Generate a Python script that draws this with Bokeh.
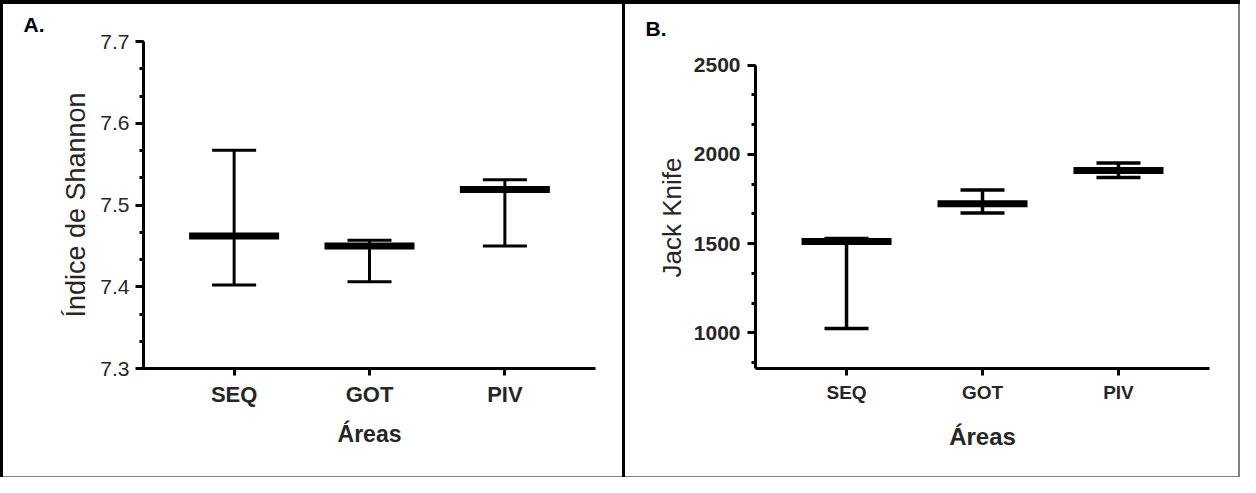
from bokeh.plotting import figure
from bokeh.layouts import row
from bokeh.models import (ColumnDataSource, FactorRange, Range1d, SingleIntervalTicker,
                          Whisker, TeeHead, Title)
from bokeh.embed import file_html
from bokeh.resources import INLINE

# ---- data ----
areas = ["SEQ", "GOT", "PIV"]

shannon_mean = [7.462, 7.450, 7.519]
shannon_low = [7.402, 7.406, 7.450]
shannon_high = [7.567, 7.457, 7.531]

jk_mean = [1512, 1723, 1910]
jk_low = [1024, 1671, 1870]
jk_high = [1528, 1801, 1952]

TXT = "#262626"


def panel(letter, ylabel, mean, low, high, yr, bounds, interval, W, H, mb,
          tick_font, tick_style, cat_font_size, cat_style, xlab_size, xlab_style,
          ylab_size, lw_wh, title_offset, title_standoff,
          ytick_standoff, ylab_standoff, xtick_standoff, xlab_standoff, shadow,
          ylabel_as_title=None):
    src = ColumnDataSource(dict(area=areas, mean=mean, low=low, high=high))
    p = figure(width=W, height=H, output_backend="svg", toolbar_location=None,
               x_range=FactorRange(factors=areas, range_padding=0.113),
               y_range=Range1d(*yr),
               min_border_left=mb[0], min_border_right=mb[1],
               min_border_top=mb[2], min_border_bottom=mb[3],
               title=letter,
               styles={"background-color": "white", "box-shadow": shadow})
    p.background_fill_color = None
    p.border_fill_color = None
    p.outline_line_color = None
    p.xgrid.visible = False
    p.ygrid.visible = False

    p.title.text_font = "Liberation Sans"
    p.title.text_font_size = "21px"
    p.title.text_font_style = "bold"
    p.title.text_color = "black"
    p.title.align = "left"
    p.title.offset = title_offset
    p.title.standoff = title_standoff

    ya = p.yaxis[0]
    ya.ticker = SingleIntervalTicker(interval=interval, num_minor_ticks=3)
    ya.bounds = bounds
    ya.axis_line_width = 3
    ya.axis_line_color = "black"
    ya.major_tick_line_width = 3
    ya.minor_tick_line_width = 3
    ya.major_tick_out = 8
    ya.major_tick_in = 0
    ya.minor_tick_out = 4
    ya.minor_tick_in = 0
    ya.major_label_text_font = "Liberation Sans"
    ya.major_label_text_font_size = tick_font
    ya.major_label_text_font_style = tick_style
    ya.major_label_text_color = TXT
    ya.major_label_standoff = ytick_standoff
    if ylabel_as_title is None:
        ya.axis_label = ylabel
        ya.axis_label_text_font = "Liberation Sans"
        ya.axis_label_text_font_size = ylab_size
        ya.axis_label_text_font_style = "normal"
        ya.axis_label_text_color = TXT
        ya.axis_label_standoff = ylab_standoff
    else:
        # label placed as a side title so it can be positioned along the axis
        p.add_layout(Title(text=ylabel, align="left", offset=ylabel_as_title,
                           standoff=ylab_standoff, text_font="Liberation Sans",
                           text_font_size=ylab_size, text_font_style="normal",
                           text_color=TXT), "left")

    xa = p.xaxis[0]
    xa.axis_line_width = 3
    xa.axis_line_color = "black"
    xa.major_tick_line_width = 3
    xa.major_tick_out = 7
    xa.major_tick_in = 0
    xa.minor_tick_out = 0
    xa.major_label_text_font = "Liberation Sans"
    xa.major_label_text_font_size = cat_font_size
    xa.major_label_text_font_style = cat_style
    xa.major_label_text_color = TXT
    xa.major_label_standoff = xtick_standoff
    xa.axis_label = "Áreas"
    xa.axis_label_text_font = "Liberation Sans"
    xa.axis_label_text_font_size = xlab_size
    xa.axis_label_text_font_style = xlab_style
    xa.axis_label_text_color = TXT
    xa.axis_label_standoff = xlab_standoff

    p.add_layout(Whisker(source=src, base="area", upper="high", lower="low",
                         dimension="height", line_color="black", line_width=lw_wh,
                         upper_head=TeeHead(size=44, line_width=lw_wh, line_color="black"),
                         lower_head=TeeHead(size=44, line_width=lw_wh, line_color="black")))
    p.scatter(x="area", y="mean", source=src, marker="dash", size=90,
              line_width=7, line_color="black")
    return p


H = 477
TOP = 41
BOT = 109
shadow_a = ("inset 0 4px 0 0 black, inset 3px 0 0 0 black, "
            "inset -3px 0 0 0 black, inset 0 -1px 0 0 #808080")
shadow_b = "inset 0 4px 0 0 black, inset -2px 0 0 0 #808080, inset 0 -1px 0 0 #808080"

pa = panel("A.", "Índice de Shannon", shannon_mean, shannon_low, shannon_high,
           (7.3, 7.7), (7.3, 7.7), 0.1, 625, H, (143, 30, TOP, BOT),
           "21px", "normal", "22px", "bold", "23px", "bold", "27px", 3,
           -120, 12, 6, 6, 6, 11, shadow_a)
# B: frame top shared with A; 2500 sits 23.7 px lower -> extend range
pb = panel("B.", "Jack Knife", jk_mean, jk_low, jk_high,
           (800, 2632.5), (800, 2500), 500, 615, H, (130, 31, TOP, BOT),
           "21px", "bold", "19px", "bold", "24px", "bold", "26px", 3.5,
           -110, 3, 7, 7, 6, 17, shadow_b, ylabel_as_title=91)

layout = row(pa, pb, spacing=0)
open("out.html", "w").write(file_html(layout, INLINE))
